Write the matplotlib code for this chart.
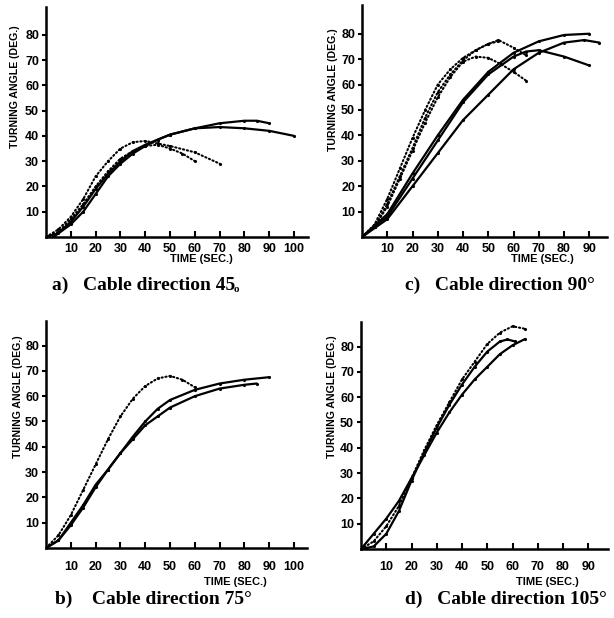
import matplotlib
matplotlib.use("Agg")
import matplotlib.pyplot as plt

W, H = 614, 618
fig = plt.figure(figsize=(W / 100, H / 100), dpi=100)

NARROW = ["Liberation Sans", "DejaVu Sans"]
SERIF = ["Liberation Serif", "DejaVu Serif"]

# ---------------- data ----------------
# panel a) cable direction 45
a_solid1_t = [3, 10, 15, 20, 25, 30, 35, 40, 45, 50, 60, 70, 80, 90, 100]
a_solid1_y = [0, 5, 10, 17, 24, 29, 33, 36, 38.5, 40.5, 43, 43.5, 43, 42, 40]
a_solid2_t = [0, 5, 10, 15, 20, 25, 30, 35, 40, 45, 50, 60, 70, 80, 85, 90]
a_solid2_y = [0, 1.5, 6, 12, 19, 25, 30, 34, 36.5, 38.5, 40.5, 43, 45, 46, 46, 45]
a_dot1_t = [0, 5, 10, 15, 20, 25, 30, 35, 40, 45, 50, 60, 70]
a_dot1_y = [0, 3, 8, 15, 24, 30, 35, 37.5, 38, 37, 36, 33.5, 29]
a_dot2_t = [0, 5, 10, 15, 20, 25, 30, 35, 40, 45, 50, 55, 60]
a_dot2_y = [0, 2, 7, 13, 20, 26, 31, 34, 36, 36.5, 35, 33, 30]

# panel c) cable direction 90
c_solidP_t = [0, 10, 20, 30, 40, 50, 60, 70, 80, 90]
c_solidP_y = [0, 9, 25, 40, 54, 65, 72.5, 77, 79.5, 80]
c_solidQ_t = [0, 10, 20, 30, 40, 50, 60, 65, 70, 80, 90]
c_solidQ_y = [0, 8, 23, 38, 53, 64, 71, 73, 73.5, 71, 67.5]
c_solidR_t = [0, 10, 20, 30, 40, 50, 60, 70, 80, 88, 94]
c_solidR_y = [0, 7, 20, 33, 46, 56, 66, 72.5, 76.5, 77.5, 76.5]
c_dot1_t = [0, 5, 10, 15, 20, 25, 30, 35, 40, 45, 50, 54, 60, 65]
c_dot1_y = [0, 5, 15, 27, 39, 50, 60, 66, 70.5, 73.5, 76, 77.5, 74.5, 71.5]
c_dot2_t = [0, 5, 10, 15, 20, 25, 30, 35, 40, 45, 50, 54]
c_dot2_y = [0, 4, 13, 24, 35, 47, 57, 64, 69.5, 73.5, 76, 77]
c_dot3_t = [0, 5, 10, 15, 20, 25, 30, 35, 40, 45, 50, 55, 60, 65]
c_dot3_y = [0, 4, 12, 23, 34, 45, 55, 63, 69, 71, 70.5, 68, 65, 61.5]

# panel b) cable direction 75
b_solidU_t = [0, 5, 10, 15, 20, 25, 30, 35, 40, 45, 50, 60, 70, 80, 90]
b_solidU_y = [0, 3, 10, 17, 25, 31, 37.5, 44, 50, 55, 58.5, 62.5, 65, 66.5, 67.5]
b_solidL_t = [0, 5, 10, 15, 20, 25, 30, 35, 40, 45, 50, 60, 70, 80, 85]
b_solidL_y = [0, 3, 9, 16, 24, 31, 37.5, 43, 48.5, 52, 55.5, 60, 63, 64.5, 65]
b_dot_t = [0, 5, 10, 15, 20, 25, 30, 35, 40, 45, 50, 55, 60]
b_dot_y = [0, 5, 13, 23, 33, 43, 52, 59, 64, 67, 68, 66.5, 63.5]

# panel d) cable direction 105
d_solidN_t = [0, 5, 10, 15, 20, 25, 30, 35, 40, 45, 50, 55, 60, 65]
d_solidN_y = [0, 6, 12, 19, 28, 37, 46, 54, 61, 67, 72, 77, 80.5, 83]
d_solidM_t = [0, 5, 10, 15, 20, 25, 30, 35, 40, 45, 50, 55, 58, 61]
d_solidM_y = [0, 1, 6, 15, 27, 38, 48, 57, 65, 72, 78, 82, 82.8, 82]
d_dot_t = [0, 5, 10, 15, 20, 25, 30, 35, 40, 45, 50, 55, 60, 65]
d_dot_y = [0, 3, 9, 17, 28, 39, 49, 58, 67, 74, 81, 85.5, 88, 87]

yticks = [10, 20, 30, 40, 50, 60, 70, 80]
xticks_long = [10, 20, 30, 40, 50, 60, 70, 80, 90, 100]
xticks_short = [10, 20, 30, 40, 50, 60, 70, 80, 90]

captions = ["a)   Cable direction 45", "c)   Cable direction 90°",
            "b)    Cable direction 75°", "d)   Cable direction 105°"]

TICK_FS = 9

# ---------------- layout helpers ----------------
def make_axes(x0px, x1px, y0px, y1px, xmax, ymax, xpad):
    ax = fig.add_axes([x0px / W, 1 - y0px / H, (x1px - x0px) / W, (y0px - y1px) / H])
    ax.set_xlim(0, xmax)
    ax.set_ylim(0, ymax)
    ax.patch.set_alpha(0)
    for s in ("top", "right"):
        ax.spines[s].set_visible(False)
    for s in ("left", "bottom"):
        ax.spines[s].set_linewidth(1.8)
    ax.tick_params(axis="x", direction="in", length=4, width=1.5, pad=xpad)
    ax.tick_params(axis="y", direction="out", length=3, width=1.5, pad=2)
    return ax

def style_ticks(ax, xt):
    ax.set_xticks(xt)
    ax.set_xticklabels([str(v) for v in xt], family=NARROW, fontweight="bold", fontsize=TICK_FS)
    ax.set_yticks(yticks)
    ax.set_yticklabels([str(v) for v in yticks], family=NARROW, fontweight="bold", fontsize=TICK_FS)

SOLID = dict(color="black", lw=1.6, solid_capstyle="round", solid_joinstyle="round")
DOT = dict(color="black", lw=1.5, linestyle=(0, (0.6, 1.3)), dash_capstyle="round")

def solid(ax, t, y):
    ax.plot(t, y, **SOLID)
    ax.plot(t, y, ".", color="black", ms=2.5)

def dotted(ax, t, y):
    ax.plot(t, y, **DOT)
    ax.plot(t, y, ".", color="black", ms=2.5)

def labels(ylx, yly, tlx, tly):
    fig.text(ylx / W, 1 - yly / H, "TURNING ANGLE (DEG.)", rotation=90, ha="center", va="center",
             family=NARROW, fontweight="bold", fontsize=7.6)
    fig.text(tlx / W, 1 - tly / H, "TIME (SEC.)", ha="center", va="center",
             family=NARROW, fontweight="bold", fontsize=8)

# panel a
axa = make_axes(46, 308, 237, 7, 105.6, 91, 4)
style_ticks(axa, xticks_long)
solid(axa, a_solid1_t, a_solid1_y)
solid(axa, a_solid2_t, a_solid2_y)
dotted(axa, a_dot1_t, a_dot1_y)
dotted(axa, a_dot2_t, a_dot2_y)
labels(15, 87, 201, 259)

# panel c
axc = make_axes(362, 607, 237, 5, 97, 91.3, 4)
style_ticks(axc, xticks_short)
solid(axc, c_solidP_t, c_solidP_y)
solid(axc, c_solidQ_t, c_solidQ_y)
solid(axc, c_solidR_t, c_solidR_y)
dotted(axc, c_dot1_t, c_dot1_y)
dotted(axc, c_dot2_t, c_dot2_y)
dotted(axc, c_dot3_t, c_dot3_y)
labels(333, 90, 542, 259)

# panel b
axb = make_axes(46, 307, 548, 321, 105.2, 89.7, 9)
style_ticks(axb, xticks_long)
solid(axb, b_solidU_t, b_solidU_y)
solid(axb, b_solidL_t, b_solidL_y)
dotted(axb, b_dot_t, b_dot_y)
labels(18, 397, 235, 582)

# panel d
axd = make_axes(361, 608, 549, 322, 97.8, 89.7, 9)
style_ticks(axd, xticks_short)
solid(axd, d_solidN_t, d_solidN_y)
solid(axd, d_solidM_t, d_solidM_y)
dotted(axd, d_dot_t, d_dot_y)
labels(332, 397, 547, 582)

# captions
cap_kw = dict(family=SERIF, fontweight="bold", fontsize=14, ha="left", va="center")
fig.text(52 / W, 1 - 285 / H, captions[0], **cap_kw)
fig.text(405 / W, 1 - 285 / H, captions[1], **cap_kw)
fig.text(55 / W, 1 - 599 / H, captions[2], **cap_kw)
fig.text(405 / W, 1 - 599 / H, captions[3], **cap_kw)
# subscript circle after "45" in caption a
fig.text(234 / W, 1 - 290 / H, "o", family=SERIF, fontweight="bold", fontsize=8, ha="left", va="center")

fig.savefig("out.png", dpi=100)
